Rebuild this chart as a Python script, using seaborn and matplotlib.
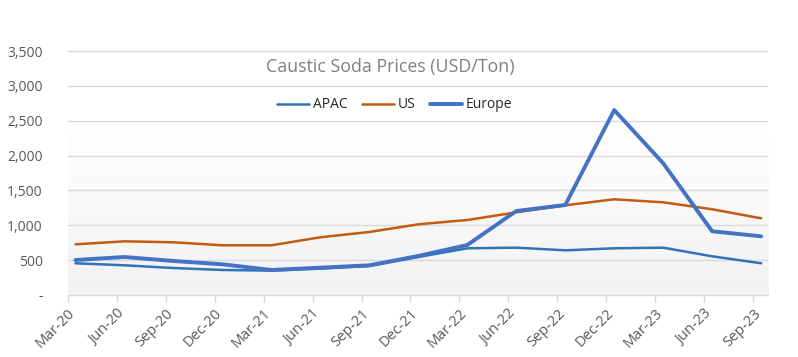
import numpy as np
import pandas as pd
import matplotlib
matplotlib.use("Agg")
import matplotlib.pyplot as plt
import matplotlib.transforms as mtransforms
from matplotlib.colors import LinearSegmentedColormap
import seaborn as sns

quarters = ["Mar-20", "Jun-20", "Sep-20", "Dec-20", "Mar-21", "Jun-21", "Sep-21", "Dec-21",
            "Mar-22", "Jun-22", "Sep-22", "Dec-22", "Mar-23", "Jun-23", "Sep-23"]
apac = [455, 426, 387, 359, 349, 378, 416, 545, 670, 679, 641, 670, 679, 555, 455]
us = [727, 770, 756, 713, 713, 828, 904, 1014, 1076, 1186, 1287, 1373, 1330, 1230, 1100]
europe = [502, 545, 488, 440, 359, 392, 426, 560, 717, 1205, 1291, 2654, 1890, 914, 842]
yticks = [0, 500, 1000, 1500, 2000, 2500, 3000, 3500]
ytick_labels = ["-", "500", "1,000", "1,500", "2,000", "2,500", "3,000", "3,500"]

sns.set_theme(style="white")
plt.rcParams['font.family'] = ['Open Sans', 'DejaVu Sans']

fig = plt.figure(figsize=(7.98, 3.57), dpi=100)
ax = fig.add_axes([0.0848, 0.1737, 0.8776, 0.6833])

offset = 0.16
pos = np.arange(len(quarters)) + offset
df = pd.DataFrame({"pos": pos, "APAC": apac, "US": us, "Europe": europe})

# gradient background
grad = np.linspace(0, 1, 256).reshape(-1, 1)
cmap = LinearSegmentedColormap.from_list("g", ["#f2f2f2", "#ffffff"])
ax.imshow(grad, extent=[0, 14.3, 0, 2480], origin="lower", aspect="auto", cmap=cmap, zorder=0)

for y in yticks[1:]:
    ax.axhline(y, color="#d9d9d9", lw=1.0, zorder=1)

sns.lineplot(data=df, x="pos", y="APAC", ax=ax, color="#2E75B6", lw=1.8, label="APAC", zorder=3)
sns.lineplot(data=df, x="pos", y="US", ax=ax, color="#C55A11", lw=1.8, label="US", zorder=3)
sns.lineplot(data=df, x="pos", y="Europe", ax=ax, color="#4472C4", lw=2.8, label="Europe", zorder=4)

ax.set_xlim(0, 14.3)
ax.set_ylim(0, 3500)
ax.set_xticks(np.arange(len(quarters)))
ax.set_xticklabels(quarters, rotation=45, ha="right", va="top", rotation_mode="anchor",
                   fontsize=10.5, color="#595959")
shift = mtransforms.ScaledTranslation(8 / 100, 0, fig.dpi_scale_trans)
for lab in ax.get_xticklabels():
    lab.set_transform(lab.get_transform() + shift)
ax.set_yticks(yticks)
ax.set_yticklabels(ytick_labels, fontsize=10, color="#595959")
ax.set_xlabel("")
ax.set_ylabel("")
ax.tick_params(axis="x", length=5, color="#d9d9d9", width=1, direction="out", bottom=True, pad=3)
ax.tick_params(axis="y", length=0, pad=18)
for s in ["left", "top", "right"]:
    ax.spines[s].set_visible(False)
ax.spines["bottom"].set_color("#d9d9d9")
ax.spines["bottom"].set_linewidth(1.0)

fig.text(0.489, 0.812, "Caustic Soda Prices (USD/Ton)", ha="center", va="center",
         fontsize=12.8, color="#7f7f7f")
leg = ax.legend(loc="center", bbox_to_anchor=(0.467, 0.779), ncol=3, frameon=False,
                fontsize=10, handlelength=2.3, columnspacing=1.0, handletextpad=0.3,
                borderpad=0, borderaxespad=0)
for t in leg.get_texts():
    t.set_color("#262626")

fig.savefig("out.png", dpi=100, facecolor="white")
